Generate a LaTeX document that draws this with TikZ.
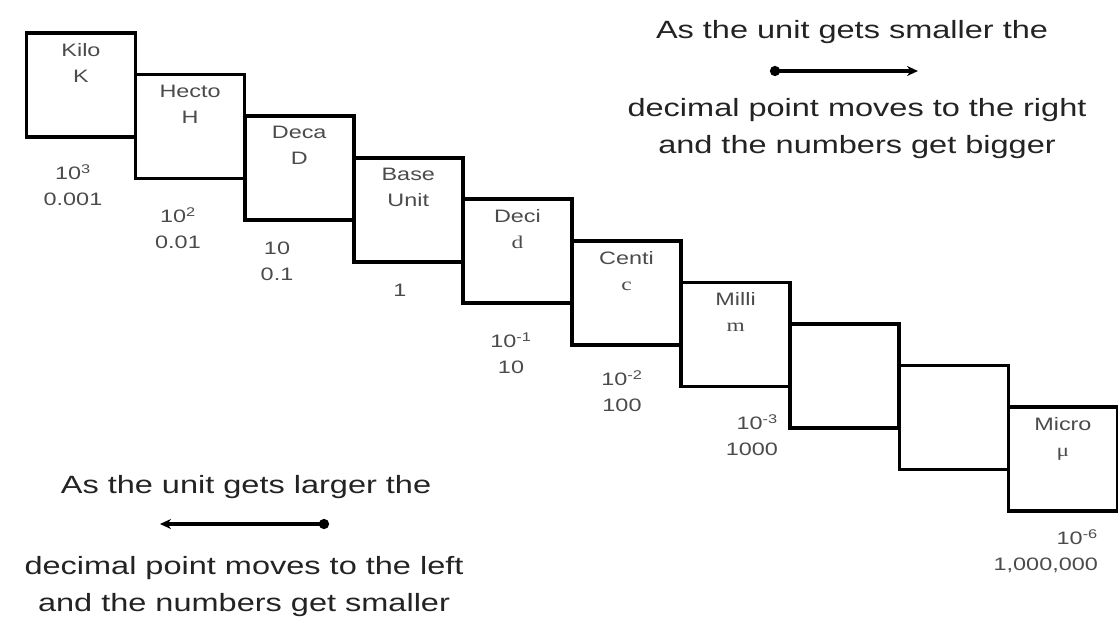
\documentclass[tikz,border=0pt]{standalone}
\usepackage{fontspec}
\setmainfont{Liberation Sans}[FakeStretch=1.3]
\newfontfamily\letterfont{Liberation Serif}[FakeStretch=1.3]
\usetikzlibrary{arrows.meta,positioning}
\definecolor{maingray}{RGB}{35,35,35}
\definecolor{labelgray}{RGB}{75,75,75}

\begin{document}
\begin{tikzpicture}[x=1pt,y=-1pt,
	unitbox/.style={draw=black,line width=3.6pt,minimum width=109pt,minimum height=104pt,inner sep=0pt},
	unitname/.style={font=\fontsize{18}{26}\selectfont,text=labelgray,align=center,inner sep=0pt},
	unitvalue/.style={font=\fontsize{18}{26}\selectfont,text=labelgray,align=center,inner sep=0pt},
	ruletext/.style={font=\fontsize{25}{37}\selectfont,text=maingray,align=center,inner sep=0pt},
	movearrow/.style={line width=3.6pt,{Circle[length=10pt]}-{Stealth[length=11pt,width=10pt]}}]
	\useasboundingbox (0,0) rectangle (1118,626);
	% die Kaesten der Treppe
	\node[unitbox] (kilo)  at (81,85) {};
	\node[unitbox] (hecto) at (190.1,126.6) {};
	\node[unitbox] (deca)  at (299.2,168.1) {};
	\node[unitbox] (base)  at (408.3,209.7) {};
	\node[unitbox] (deci)  at (517.4,251.2) {};
	\node[unitbox] (centi) at (626.5,292.8) {};
	\node[unitbox] (milli) at (735.6,334.3) {};
	\node[unitbox] (box8)  at (844.7,375.9) {};
	\node[unitbox] (box9)  at (953.8,417.4) {};
	\node[unitbox] (micro) at (1062.9,459) {};
	% Namen in den Kaesten
	\node[unitname,below=12pt of kilo.north]  (Nkilo)  {Kilo\\K};
	\node[unitname,below=12pt of hecto.north] (Nhecto) {Hecto\\H};
	\node[unitname,below=12pt of deca.north]  (Ndeca)  {Deca\\D};
	\node[unitname,below=12pt of base.north]  (Nbase)  {Base\\Unit};
	\node[unitname,below=12pt of deci.north]  (Ndeci)  {Deci\\{\letterfont d}};
	\node[unitname,below=12pt of centi.north] (Ncenti) {Centi\\{\letterfont c}};
	\node[unitname,below=12pt of milli.north] (Nmilli) {Milli\\{\letterfont m}};
	\node[unitname,below=12pt of micro.north] (Nmicro) {Micro\\{\letterfont μ}};
	% Zahlen unter den Kaesten
	\node[unitvalue] (Vkilo)  at (73,185)  {10\textsuperscript{3}\\0.001};
	\node[unitvalue] (Vhecto) at (178,228) {10\textsuperscript{2}\\0.01};
	\node[unitvalue] (Vdeca)  at (277,261) {10\\0.1};
	\node[unitvalue] (Vbase)  at (400,290) {1};
	\node[unitvalue] (Vdeci)  at (511,353) {10\textsuperscript{-1}\\10};
	\node[unitvalue] (Vcenti) at (622,391) {10\textsuperscript{-2}\\100};
	\node[unitvalue,align=right,anchor=east] (Vmilli) at (778,435) {10\textsuperscript{-3}\\1000};
	\node[unitvalue,align=right,anchor=east] (Vmicro) at (1098,551) {10\textsuperscript{-6}\\1,000,000};
	% Regel oben rechts
	\node[ruletext] (Tsmall) at (852,32) {As the unit gets smaller the};
	\coordinate (Rstart) at (770,71);
	\coordinate (Rend) at (918,71);
	\draw[movearrow] (Rstart) -- (Rend);
	\node[ruletext] (Tright) at (857,129) {decimal point moves to the right\\and the numbers get bigger};
	% Regel unten links
	\node[ruletext] (Tlarge) at (246,487) {As the unit gets larger the};
	\coordinate (Lstart) at (329,524);
	\coordinate (Lend) at (160,524);
	\draw[movearrow] (Lstart) -- (Lend);
	\node[ruletext] (Tleft) at (244,587) {decimal point moves to the left\\and the numbers get smaller};
\end{tikzpicture}
\end{document}
